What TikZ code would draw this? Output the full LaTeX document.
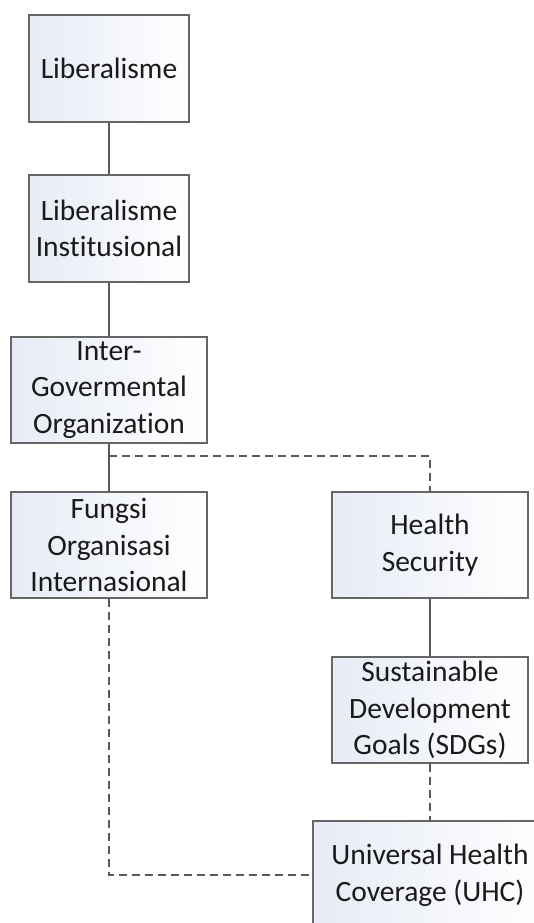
\documentclass[tikz,border=0pt]{standalone}
\usepackage{fontspec}
\setmainfont[Ligatures=NoCommon]{Carlito}
\definecolor{edge}{HTML}{666666}
\definecolor{wire}{HTML}{5A5A5A}
\definecolor{tint}{HTML}{E6EBF5}
\definecolor{ink}{HTML}{1A1A1A}
\begin{document}
\begin{tikzpicture}[x=1pt,y=-1pt,
  box/.style={draw=edge, line width=1.2pt, left color=tint, right color=white,
    minimum height=107pt, inner sep=0pt, align=center, text=ink,
    font=\fontsize{29.5}{36.7}\selectfont},
  solidwire/.style={draw=wire, line width=1.3pt},
  dashwire/.style={draw=wire, line width=1.3pt, dash pattern=on 8pt off 5pt}]
\useasboundingbox (0,0) rectangle (534,923);
\clip (0,0) rectangle (534,923);
\fill[white] (0,0) rectangle (534,923);
\node[box, minimum width=160pt] (lib) at (109,68.5) {Liberalisme};
\node[box, minimum width=160pt] (libi) at (109,228.5) {Liberalisme\\Institusional};
\node[box, minimum width=196pt, minimum height=106pt] (igo) at (109,390) {Inter-\\Govermental\\Organization};
\node[box, minimum width=196pt, minimum height=106pt] (foi) at (109,545) {Fungsi\\Organisasi\\Internasional};
\node[box, minimum width=196pt, minimum height=106pt] (hs) at (430,545) {Health\\Security};
\node[box, minimum width=196pt, minimum height=106pt] (sdg) at (430,710) {Sustainable\\Development\\Goals (SDGs)};
\node[box, minimum width=234pt, minimum height=108pt] (uhc) at (430,875) {Universal Health\\Coverage (UHC)};
\coordinate (split) at (109,456);
\draw[solidwire] (lib.south) -- (libi.north);
\draw[solidwire] (libi.south) -- (igo.north);
\draw[solidwire] (igo.south) -- (foi.north);
\draw[dashwire] (split) -| (hs.north);
\draw[solidwire] (hs.south) -- (sdg.north);
\draw[dashwire] (sdg.south) -- (uhc.north);
\draw[dashwire] (foi.south) |- (uhc.west);
\end{tikzpicture}
\end{document}
